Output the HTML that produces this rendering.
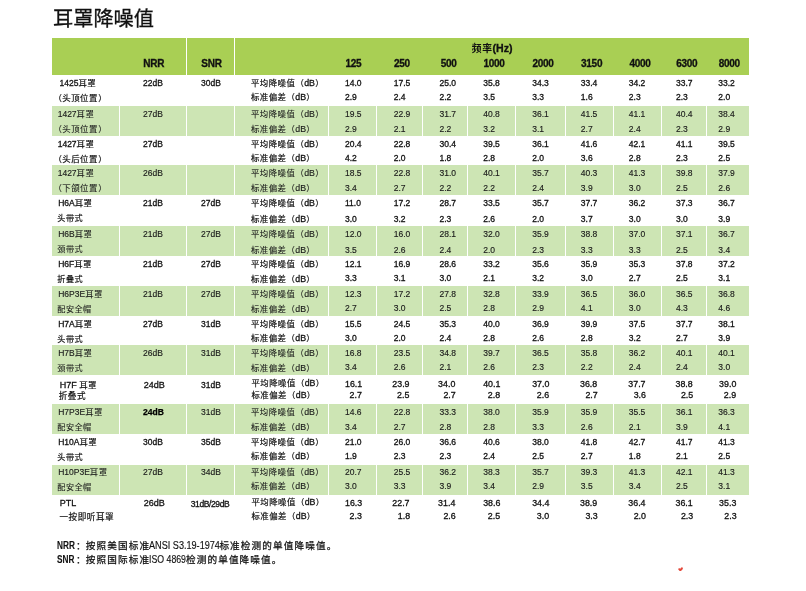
<!DOCTYPE html>
<html lang="zh-CN">
<head>
<meta charset="utf-8">
<title>耳罩降噪值</title>
<style>
html,body{margin:0;padding:0;background:#fff;}
body{width:806px;height:591px;position:relative;overflow:hidden;font-family:"Liberation Sans","Noto Sans CJK SC",sans-serif;color:#111;}
.r{position:absolute;}
main,.bg,.tbl,.thead,.row,.notes{display:block;margin:0;padding:0;}
.t span{line-height:0;}
.t{position:absolute;white-space:pre;font-size:8.5px;line-height:20px;height:20px;margin-top:-14px;-webkit-text-stroke:0.3px #111;}
.t .c{font-size:8.4px;letter-spacing:0.48px;-webkit-text-stroke:0.2px #111;}
.t.g{font-size:9px;}
.t.v{font-size:8.85px;}
.t.g .c{font-size:8.45px;letter-spacing:0.45px;}
.t .db{font-size:8.8px;margin-left:-0.1px;}
.sp{font-size:7px;}
.po{margin-left:-0.5em;}
.po2{margin-left:0.1px;}
.pc{margin-right:-0.5em;margin-left:0.3px;}
.t.h{font-weight:bold;font-size:10px;letter-spacing:-0.25px;-webkit-text-stroke:0.3px #111;}
.t.h .c{font-size:9.8px;letter-spacing:0.6px;font-weight:700;-webkit-text-stroke:0;}
.t.gr{-webkit-text-stroke:0.14px #1a1a1a;color:#1a1a1a;}
.t.gr .c{-webkit-text-stroke:0.08px #1a1a1a;}
.t.b{font-weight:bold;color:#000;-webkit-text-stroke:0.25px #000;}
.t.f{font-size:10.3px;-webkit-text-stroke:0.15px #111;transform-origin:0 50%;}
.t.fb{font-weight:bold;transform:scaleX(0.8);-webkit-text-stroke:0.1px #111;}
.t.fl{transform:scaleX(0.885);}
.t.fc{font-size:9.6px;letter-spacing:1.13px;-webkit-text-stroke:0.25px #111;}
.title{position:absolute;left:53px;top:4px;margin:0;font-size:20.2px;line-height:30px;font-weight:normal;white-space:nowrap;color:#111;-webkit-text-stroke:0.3px #111;}
</style>
</head>
<body>
<main>
<div class="bg" aria-hidden="true">
<div class="r" style="left:52px;top:38px;width:697px;height:37px;background:#a9cf54"></div>
<div class="r" style="left:186px;top:38px;width:1px;height:37px;background:#fff"></div>
<div class="r" style="left:234px;top:38px;width:1px;height:37px;background:#fff"></div>
<div class="r" style="left:52px;top:106px;width:697px;height:30px;background:#cde5b4"></div>
<div class="r" style="left:119px;top:106px;width:1px;height:30px;background:#fff"></div>
<div class="r" style="left:186px;top:106px;width:1px;height:30px;background:#fff"></div>
<div class="r" style="left:234px;top:106px;width:1px;height:30px;background:#fff"></div>
<div class="r" style="left:328px;top:106px;width:1px;height:30px;background:#fff"></div>
<div class="r" style="left:376px;top:106px;width:1px;height:30px;background:#fff"></div>
<div class="r" style="left:422px;top:106px;width:1px;height:30px;background:#fff"></div>
<div class="r" style="left:467px;top:106px;width:1px;height:30px;background:#fff"></div>
<div class="r" style="left:515px;top:106px;width:1px;height:30px;background:#fff"></div>
<div class="r" style="left:565px;top:106px;width:1px;height:30px;background:#fff"></div>
<div class="r" style="left:613px;top:106px;width:1px;height:30px;background:#fff"></div>
<div class="r" style="left:660.5px;top:106px;width:1px;height:30px;background:#fff"></div>
<div class="r" style="left:706px;top:106px;width:1px;height:30px;background:#fff"></div>
<div class="r" style="left:52px;top:165px;width:697px;height:30px;background:#cde5b4"></div>
<div class="r" style="left:119px;top:165px;width:1px;height:30px;background:#fff"></div>
<div class="r" style="left:186px;top:165px;width:1px;height:30px;background:#fff"></div>
<div class="r" style="left:234px;top:165px;width:1px;height:30px;background:#fff"></div>
<div class="r" style="left:328px;top:165px;width:1px;height:30px;background:#fff"></div>
<div class="r" style="left:376px;top:165px;width:1px;height:30px;background:#fff"></div>
<div class="r" style="left:422px;top:165px;width:1px;height:30px;background:#fff"></div>
<div class="r" style="left:467px;top:165px;width:1px;height:30px;background:#fff"></div>
<div class="r" style="left:515px;top:165px;width:1px;height:30px;background:#fff"></div>
<div class="r" style="left:565px;top:165px;width:1px;height:30px;background:#fff"></div>
<div class="r" style="left:613px;top:165px;width:1px;height:30px;background:#fff"></div>
<div class="r" style="left:660.5px;top:165px;width:1px;height:30px;background:#fff"></div>
<div class="r" style="left:706px;top:165px;width:1px;height:30px;background:#fff"></div>
<div class="r" style="left:52px;top:226px;width:697px;height:30px;background:#cde5b4"></div>
<div class="r" style="left:119px;top:226px;width:1px;height:30px;background:#fff"></div>
<div class="r" style="left:186px;top:226px;width:1px;height:30px;background:#fff"></div>
<div class="r" style="left:234px;top:226px;width:1px;height:30px;background:#fff"></div>
<div class="r" style="left:328px;top:226px;width:1px;height:30px;background:#fff"></div>
<div class="r" style="left:376px;top:226px;width:1px;height:30px;background:#fff"></div>
<div class="r" style="left:422px;top:226px;width:1px;height:30px;background:#fff"></div>
<div class="r" style="left:467px;top:226px;width:1px;height:30px;background:#fff"></div>
<div class="r" style="left:515px;top:226px;width:1px;height:30px;background:#fff"></div>
<div class="r" style="left:565px;top:226px;width:1px;height:30px;background:#fff"></div>
<div class="r" style="left:613px;top:226px;width:1px;height:30px;background:#fff"></div>
<div class="r" style="left:660.5px;top:226px;width:1px;height:30px;background:#fff"></div>
<div class="r" style="left:706px;top:226px;width:1px;height:30px;background:#fff"></div>
<div class="r" style="left:52px;top:286px;width:697px;height:30px;background:#cde5b4"></div>
<div class="r" style="left:119px;top:286px;width:1px;height:30px;background:#fff"></div>
<div class="r" style="left:186px;top:286px;width:1px;height:30px;background:#fff"></div>
<div class="r" style="left:234px;top:286px;width:1px;height:30px;background:#fff"></div>
<div class="r" style="left:328px;top:286px;width:1px;height:30px;background:#fff"></div>
<div class="r" style="left:376px;top:286px;width:1px;height:30px;background:#fff"></div>
<div class="r" style="left:422px;top:286px;width:1px;height:30px;background:#fff"></div>
<div class="r" style="left:467px;top:286px;width:1px;height:30px;background:#fff"></div>
<div class="r" style="left:515px;top:286px;width:1px;height:30px;background:#fff"></div>
<div class="r" style="left:565px;top:286px;width:1px;height:30px;background:#fff"></div>
<div class="r" style="left:613px;top:286px;width:1px;height:30px;background:#fff"></div>
<div class="r" style="left:660.5px;top:286px;width:1px;height:30px;background:#fff"></div>
<div class="r" style="left:706px;top:286px;width:1px;height:30px;background:#fff"></div>
<div class="r" style="left:52px;top:345px;width:697px;height:30px;background:#cde5b4"></div>
<div class="r" style="left:119px;top:345px;width:1px;height:30px;background:#fff"></div>
<div class="r" style="left:186px;top:345px;width:1px;height:30px;background:#fff"></div>
<div class="r" style="left:234px;top:345px;width:1px;height:30px;background:#fff"></div>
<div class="r" style="left:328px;top:345px;width:1px;height:30px;background:#fff"></div>
<div class="r" style="left:376px;top:345px;width:1px;height:30px;background:#fff"></div>
<div class="r" style="left:422px;top:345px;width:1px;height:30px;background:#fff"></div>
<div class="r" style="left:467px;top:345px;width:1px;height:30px;background:#fff"></div>
<div class="r" style="left:515px;top:345px;width:1px;height:30px;background:#fff"></div>
<div class="r" style="left:565px;top:345px;width:1px;height:30px;background:#fff"></div>
<div class="r" style="left:613px;top:345px;width:1px;height:30px;background:#fff"></div>
<div class="r" style="left:660.5px;top:345px;width:1px;height:30px;background:#fff"></div>
<div class="r" style="left:706px;top:345px;width:1px;height:30px;background:#fff"></div>
<div class="r" style="left:52px;top:404px;width:697px;height:30px;background:#cde5b4"></div>
<div class="r" style="left:119px;top:404px;width:1px;height:30px;background:#fff"></div>
<div class="r" style="left:186px;top:404px;width:1px;height:30px;background:#fff"></div>
<div class="r" style="left:234px;top:404px;width:1px;height:30px;background:#fff"></div>
<div class="r" style="left:328px;top:404px;width:1px;height:30px;background:#fff"></div>
<div class="r" style="left:376px;top:404px;width:1px;height:30px;background:#fff"></div>
<div class="r" style="left:422px;top:404px;width:1px;height:30px;background:#fff"></div>
<div class="r" style="left:467px;top:404px;width:1px;height:30px;background:#fff"></div>
<div class="r" style="left:515px;top:404px;width:1px;height:30px;background:#fff"></div>
<div class="r" style="left:565px;top:404px;width:1px;height:30px;background:#fff"></div>
<div class="r" style="left:613px;top:404px;width:1px;height:30px;background:#fff"></div>
<div class="r" style="left:660.5px;top:404px;width:1px;height:30px;background:#fff"></div>
<div class="r" style="left:706px;top:404px;width:1px;height:30px;background:#fff"></div>
<div class="r" style="left:52px;top:465px;width:697px;height:30px;background:#cde5b4"></div>
<div class="r" style="left:119px;top:465px;width:1px;height:30px;background:#fff"></div>
<div class="r" style="left:186px;top:465px;width:1px;height:30px;background:#fff"></div>
<div class="r" style="left:234px;top:465px;width:1px;height:30px;background:#fff"></div>
<div class="r" style="left:328px;top:465px;width:1px;height:30px;background:#fff"></div>
<div class="r" style="left:376px;top:465px;width:1px;height:30px;background:#fff"></div>
<div class="r" style="left:422px;top:465px;width:1px;height:30px;background:#fff"></div>
<div class="r" style="left:467px;top:465px;width:1px;height:30px;background:#fff"></div>
<div class="r" style="left:515px;top:465px;width:1px;height:30px;background:#fff"></div>
<div class="r" style="left:565px;top:465px;width:1px;height:30px;background:#fff"></div>
<div class="r" style="left:613px;top:465px;width:1px;height:30px;background:#fff"></div>
<div class="r" style="left:660.5px;top:465px;width:1px;height:30px;background:#fff"></div>
<div class="r" style="left:706px;top:465px;width:1px;height:30px;background:#fff"></div>
</div>
<h1 class="title">耳罩降噪值</h1>
<div class="tbl" role="table">
<div class="thead" role="row">
<span class="t h" style="left:143.3px;top:67.78px;">NRR</span>
<span class="t h" style="left:201.3px;top:67.78px;">SNR</span>
<span class="t h" style="left:471.8px;top:51.58px;font-size:10.6px;letter-spacing:0"><span class="c">频率</span>(Hz)</span>
<span class="t h" style="left:345.4px;top:67.78px;">125</span>
<span class="t h" style="left:394.0px;top:67.78px;">250</span>
<span class="t h" style="left:440.7px;top:67.78px;">500</span>
<span class="t h" style="left:483.4px;top:67.78px;">1000</span>
<span class="t h" style="left:532.4px;top:67.78px;">2000</span>
<span class="t h" style="left:581.0px;top:67.78px;">3150</span>
<span class="t h" style="left:629.4px;top:67.78px;">4000</span>
<span class="t h" style="left:676.2px;top:67.78px;">6300</span>
<span class="t h" style="left:718.7px;top:67.78px;">8000</span>
</div>
<div class="row" role="row">
<span class="t " style="left:59.6px;top:87.30px;">1425<span class="c">耳罩</span></span>
<span class="t " style="left:57.6px;top:102.30px;"><span class="c" style="font-size:8.41px;letter-spacing:0.49px"><span class="po">（</span>头顶位置<span class="pc">）</span></span></span>
<span class="t " style="left:143.0px;top:87.30px;">22dB</span>
<span class="t " style="left:201.0px;top:87.30px;">30dB</span>
<span class="t " style="left:251.0px;top:87.30px;"><span class="c">平均降噪值<span class="po2">（</span></span><span class="db">dB</span><span class="c"><span class="pc">）</span></span></span>
<span class="t " style="left:251.0px;top:101.30px;"><span class="c">标准偏差<span class="po2">（</span></span><span class="db">dB</span><span class="c"><span class="pc">）</span></span></span>
<span class="t " style="left:345.0px;top:87.30px;">14.0</span>
<span class="t " style="left:393.7px;top:87.30px;">17.5</span>
<span class="t " style="left:439.5px;top:87.30px;">25.0</span>
<span class="t " style="left:483.2px;top:87.30px;">35.8</span>
<span class="t " style="left:532.2px;top:87.30px;">34.3</span>
<span class="t " style="left:580.8px;top:87.30px;">33.4</span>
<span class="t " style="left:628.8px;top:87.30px;">34.2</span>
<span class="t " style="left:676.0px;top:87.30px;">33.7</span>
<span class="t " style="left:718.3px;top:87.30px;">33.2</span>
<span class="t " style="left:345.0px;top:101.30px;">2.9</span>
<span class="t " style="left:393.7px;top:101.30px;">2.4</span>
<span class="t " style="left:439.5px;top:101.30px;">2.2</span>
<span class="t " style="left:483.2px;top:101.30px;">3.5</span>
<span class="t " style="left:532.2px;top:101.30px;">3.3</span>
<span class="t " style="left:580.8px;top:101.30px;">1.6</span>
<span class="t " style="left:628.8px;top:101.30px;">2.3</span>
<span class="t " style="left:676.0px;top:101.30px;">2.3</span>
<span class="t " style="left:718.3px;top:101.30px;">2.0</span>
</div>
<div class="row" role="row">
<span class="t  gr" style="left:57.7px;top:118.30px;">1427<span class="c">耳罩</span></span>
<span class="t  gr" style="left:57.6px;top:133.30px;"><span class="c" style="font-size:8.41px;letter-spacing:0.49px"><span class="po">（</span>头顶位置<span class="pc">）</span></span></span>
<span class="t  gr" style="left:143.0px;top:118.30px;">27dB</span>
<span class="t gr" style="left:251.0px;top:118.30px;"><span class="c">平均降噪值<span class="po2">（</span></span><span class="db">dB</span><span class="c"><span class="pc">）</span></span></span>
<span class="t gr" style="left:251.0px;top:133.30px;"><span class="c">标准偏差<span class="po2">（</span></span><span class="db">dB</span><span class="c"><span class="pc">）</span></span></span>
<span class="t  gr" style="left:345.0px;top:118.30px;">19.5</span>
<span class="t  gr" style="left:393.7px;top:118.30px;">22.9</span>
<span class="t  gr" style="left:439.5px;top:118.30px;">31.7</span>
<span class="t  gr" style="left:483.2px;top:118.30px;">40.8</span>
<span class="t  gr" style="left:532.2px;top:118.30px;">36.1</span>
<span class="t  gr" style="left:580.8px;top:118.30px;">41.5</span>
<span class="t  gr" style="left:628.8px;top:118.30px;">41.1</span>
<span class="t  gr" style="left:676.0px;top:118.30px;">40.4</span>
<span class="t  gr" style="left:718.3px;top:118.30px;">38.4</span>
<span class="t  gr" style="left:345.0px;top:133.30px;">2.9</span>
<span class="t  gr" style="left:393.7px;top:133.30px;">2.1</span>
<span class="t  gr" style="left:439.5px;top:133.30px;">2.2</span>
<span class="t  gr" style="left:483.2px;top:133.30px;">3.2</span>
<span class="t  gr" style="left:532.2px;top:133.30px;">3.1</span>
<span class="t  gr" style="left:580.8px;top:133.30px;">2.7</span>
<span class="t  gr" style="left:628.8px;top:133.30px;">2.4</span>
<span class="t  gr" style="left:676.0px;top:133.30px;">2.3</span>
<span class="t  gr" style="left:718.3px;top:133.30px;">2.9</span>
</div>
<div class="row" role="row">
<span class="t " style="left:57.7px;top:148.30px;">1427<span class="c">耳罩</span></span>
<span class="t " style="left:57.6px;top:163.30px;"><span class="c" style="font-size:8.41px;letter-spacing:0.49px"><span class="po">（</span>头后位置<span class="pc">）</span></span></span>
<span class="t " style="left:143.0px;top:148.30px;">27dB</span>
<span class="t " style="left:251.0px;top:148.30px;"><span class="c">平均降噪值<span class="po2">（</span></span><span class="db">dB</span><span class="c"><span class="pc">）</span></span></span>
<span class="t " style="left:251.0px;top:162.30px;"><span class="c">标准偏差<span class="po2">（</span></span><span class="db">dB</span><span class="c"><span class="pc">）</span></span></span>
<span class="t " style="left:345.0px;top:148.30px;">20.4</span>
<span class="t " style="left:393.7px;top:148.30px;">22.8</span>
<span class="t " style="left:439.5px;top:148.30px;">30.4</span>
<span class="t " style="left:483.2px;top:148.30px;">39.5</span>
<span class="t " style="left:532.2px;top:148.30px;">36.1</span>
<span class="t " style="left:580.8px;top:148.30px;">41.6</span>
<span class="t " style="left:628.8px;top:148.30px;">42.1</span>
<span class="t " style="left:676.0px;top:148.30px;">41.1</span>
<span class="t " style="left:718.3px;top:148.30px;">39.5</span>
<span class="t " style="left:345.0px;top:162.30px;">4.2</span>
<span class="t " style="left:393.7px;top:162.30px;">2.0</span>
<span class="t " style="left:439.5px;top:162.30px;">1.8</span>
<span class="t " style="left:483.2px;top:162.30px;">2.8</span>
<span class="t " style="left:532.2px;top:162.30px;">2.0</span>
<span class="t " style="left:580.8px;top:162.30px;">3.6</span>
<span class="t " style="left:628.8px;top:162.30px;">2.8</span>
<span class="t " style="left:676.0px;top:162.30px;">2.3</span>
<span class="t " style="left:718.3px;top:162.30px;">2.5</span>
</div>
<div class="row" role="row">
<span class="t  gr" style="left:57.7px;top:177.30px;">1427<span class="c">耳罩</span></span>
<span class="t  gr" style="left:57.6px;top:192.30px;"><span class="c" style="font-size:8.41px;letter-spacing:0.49px"><span class="po">（</span>下颌位置<span class="pc">）</span></span></span>
<span class="t  gr" style="left:143.0px;top:177.30px;">26dB</span>
<span class="t gr" style="left:251.0px;top:177.30px;"><span class="c">平均降噪值<span class="po2">（</span></span><span class="db">dB</span><span class="c"><span class="pc">）</span></span></span>
<span class="t gr" style="left:251.0px;top:192.30px;"><span class="c">标准偏差<span class="po2">（</span></span><span class="db">dB</span><span class="c"><span class="pc">）</span></span></span>
<span class="t  gr" style="left:345.0px;top:177.30px;">18.5</span>
<span class="t  gr" style="left:393.7px;top:177.30px;">22.8</span>
<span class="t  gr" style="left:439.5px;top:177.30px;">31.0</span>
<span class="t  gr" style="left:483.2px;top:177.30px;">40.1</span>
<span class="t  gr" style="left:532.2px;top:177.30px;">35.7</span>
<span class="t  gr" style="left:580.8px;top:177.30px;">40.3</span>
<span class="t  gr" style="left:628.8px;top:177.30px;">41.3</span>
<span class="t  gr" style="left:676.0px;top:177.30px;">39.8</span>
<span class="t  gr" style="left:718.3px;top:177.30px;">37.9</span>
<span class="t  gr" style="left:345.0px;top:192.30px;">3.4</span>
<span class="t  gr" style="left:393.7px;top:192.30px;">2.7</span>
<span class="t  gr" style="left:439.5px;top:192.30px;">2.2</span>
<span class="t  gr" style="left:483.2px;top:192.30px;">2.2</span>
<span class="t  gr" style="left:532.2px;top:192.30px;">2.4</span>
<span class="t  gr" style="left:580.8px;top:192.30px;">3.9</span>
<span class="t  gr" style="left:628.8px;top:192.30px;">3.0</span>
<span class="t  gr" style="left:676.0px;top:192.30px;">2.5</span>
<span class="t  gr" style="left:718.3px;top:192.30px;">2.6</span>
</div>
<div class="row" role="row">
<span class="t " style="left:58.2px;top:207.30px;">H6A<span class="c">耳罩</span></span>
<span class="t " style="left:57.3px;top:222.30px;"><span class="c" style="font-size:8.13px;letter-spacing:0.47px">头带式</span></span>
<span class="t " style="left:143.0px;top:207.30px;">21dB</span>
<span class="t " style="left:201.0px;top:207.30px;">27dB</span>
<span class="t " style="left:251.0px;top:207.30px;"><span class="c">平均降噪值<span class="po2">（</span></span><span class="db">dB</span><span class="c"><span class="pc">）</span></span></span>
<span class="t " style="left:251.0px;top:223.30px;"><span class="c">标准偏差<span class="po2">（</span></span><span class="db">dB</span><span class="c"><span class="pc">）</span></span></span>
<span class="t " style="left:345.0px;top:207.30px;">11.0</span>
<span class="t " style="left:393.7px;top:207.30px;">17.2</span>
<span class="t " style="left:439.5px;top:207.30px;">28.7</span>
<span class="t " style="left:483.2px;top:207.30px;">33.5</span>
<span class="t " style="left:532.2px;top:207.30px;">35.7</span>
<span class="t " style="left:580.8px;top:207.30px;">37.7</span>
<span class="t " style="left:628.8px;top:207.30px;">36.2</span>
<span class="t " style="left:676.0px;top:207.30px;">37.3</span>
<span class="t " style="left:718.3px;top:207.30px;">36.7</span>
<span class="t " style="left:345.0px;top:223.30px;">3.0</span>
<span class="t " style="left:393.7px;top:223.30px;">3.2</span>
<span class="t " style="left:439.5px;top:223.30px;">2.3</span>
<span class="t " style="left:483.2px;top:223.30px;">2.6</span>
<span class="t " style="left:532.2px;top:223.30px;">2.0</span>
<span class="t " style="left:580.8px;top:223.30px;">3.7</span>
<span class="t " style="left:628.8px;top:223.30px;">3.0</span>
<span class="t " style="left:676.0px;top:223.30px;">3.0</span>
<span class="t " style="left:718.3px;top:223.30px;">3.9</span>
</div>
<div class="row" role="row">
<span class="t  gr" style="left:58.2px;top:238.30px;">H6B<span class="c">耳罩</span></span>
<span class="t  gr" style="left:57.3px;top:253.30px;"><span class="c" style="font-size:8.13px;letter-spacing:0.47px">颈带式</span></span>
<span class="t  gr" style="left:143.0px;top:238.30px;">21dB</span>
<span class="t gr" style="left:201.0px;top:238.30px;">27dB</span>
<span class="t gr" style="left:251.0px;top:238.30px;"><span class="c">平均降噪值<span class="po2">（</span></span><span class="db">dB</span><span class="c"><span class="pc">）</span></span></span>
<span class="t gr" style="left:251.0px;top:254.30px;"><span class="c">标准偏差<span class="po2">（</span></span><span class="db">dB</span><span class="c"><span class="pc">）</span></span></span>
<span class="t  gr" style="left:345.0px;top:238.30px;">12.0</span>
<span class="t  gr" style="left:393.7px;top:238.30px;">16.0</span>
<span class="t  gr" style="left:439.5px;top:238.30px;">28.1</span>
<span class="t  gr" style="left:483.2px;top:238.30px;">32.0</span>
<span class="t  gr" style="left:532.2px;top:238.30px;">35.9</span>
<span class="t  gr" style="left:580.8px;top:238.30px;">38.8</span>
<span class="t  gr" style="left:628.8px;top:238.30px;">37.0</span>
<span class="t  gr" style="left:676.0px;top:238.30px;">37.1</span>
<span class="t  gr" style="left:718.3px;top:238.30px;">36.7</span>
<span class="t  gr" style="left:345.0px;top:254.30px;">3.5</span>
<span class="t  gr" style="left:393.7px;top:254.30px;">2.6</span>
<span class="t  gr" style="left:439.5px;top:254.30px;">2.4</span>
<span class="t  gr" style="left:483.2px;top:254.30px;">2.0</span>
<span class="t  gr" style="left:532.2px;top:254.30px;">2.3</span>
<span class="t  gr" style="left:580.8px;top:254.30px;">3.3</span>
<span class="t  gr" style="left:628.8px;top:254.30px;">3.3</span>
<span class="t  gr" style="left:676.0px;top:254.30px;">2.5</span>
<span class="t  gr" style="left:718.3px;top:254.30px;">3.4</span>
</div>
<div class="row" role="row">
<span class="t " style="left:58.2px;top:268.30px;">H6F<span class="c">耳罩</span></span>
<span class="t " style="left:57.3px;top:283.30px;"><span class="c" style="font-size:8.13px;letter-spacing:0.47px">折叠式</span></span>
<span class="t " style="left:143.0px;top:268.30px;">21dB</span>
<span class="t " style="left:201.0px;top:268.30px;">27dB</span>
<span class="t " style="left:251.0px;top:268.30px;"><span class="c">平均降噪值<span class="po2">（</span></span><span class="db">dB</span><span class="c"><span class="pc">）</span></span></span>
<span class="t " style="left:251.0px;top:283.30px;"><span class="c">标准偏差<span class="po2">（</span></span><span class="db">dB</span><span class="c"><span class="pc">）</span></span></span>
<span class="t " style="left:345.0px;top:268.30px;">12.1</span>
<span class="t " style="left:393.7px;top:268.30px;">16.9</span>
<span class="t " style="left:439.5px;top:268.30px;">28.6</span>
<span class="t " style="left:483.2px;top:268.30px;">33.2</span>
<span class="t " style="left:532.2px;top:268.30px;">35.6</span>
<span class="t " style="left:580.8px;top:268.30px;">35.9</span>
<span class="t " style="left:628.8px;top:268.30px;">35.3</span>
<span class="t " style="left:676.0px;top:268.30px;">37.8</span>
<span class="t " style="left:718.3px;top:268.30px;">37.2</span>
<span class="t " style="left:345.0px;top:282.30px;">3.3</span>
<span class="t " style="left:393.7px;top:282.30px;">3.1</span>
<span class="t " style="left:439.5px;top:282.30px;">3.0</span>
<span class="t " style="left:483.2px;top:282.30px;">2.1</span>
<span class="t " style="left:532.2px;top:282.30px;">3.2</span>
<span class="t " style="left:580.8px;top:282.30px;">3.0</span>
<span class="t " style="left:628.8px;top:282.30px;">2.7</span>
<span class="t " style="left:676.0px;top:282.30px;">2.5</span>
<span class="t " style="left:718.3px;top:282.30px;">3.1</span>
</div>
<div class="row" role="row">
<span class="t  gr" style="left:58.2px;top:298.30px;">H6P3E<span class="c">耳罩</span></span>
<span class="t  gr" style="left:57.3px;top:313.30px;"><span class="c" style="font-size:8.13px;letter-spacing:0.47px">配安全帽</span></span>
<span class="t  gr" style="left:143.0px;top:298.30px;">21dB</span>
<span class="t gr" style="left:201.0px;top:298.30px;">27dB</span>
<span class="t gr" style="left:251.0px;top:298.30px;"><span class="c">平均降噪值<span class="po2">（</span></span><span class="db">dB</span><span class="c"><span class="pc">）</span></span></span>
<span class="t gr" style="left:251.0px;top:313.30px;"><span class="c">标准偏差<span class="po2">（</span></span><span class="db">dB</span><span class="c"><span class="pc">）</span></span></span>
<span class="t  gr" style="left:345.0px;top:298.30px;">12.3</span>
<span class="t  gr" style="left:393.7px;top:298.30px;">17.2</span>
<span class="t  gr" style="left:439.5px;top:298.30px;">27.8</span>
<span class="t  gr" style="left:483.2px;top:298.30px;">32.8</span>
<span class="t  gr" style="left:532.2px;top:298.30px;">33.9</span>
<span class="t  gr" style="left:580.8px;top:298.30px;">36.5</span>
<span class="t  gr" style="left:628.8px;top:298.30px;">36.0</span>
<span class="t  gr" style="left:676.0px;top:298.30px;">36.5</span>
<span class="t  gr" style="left:718.3px;top:298.30px;">36.8</span>
<span class="t  gr" style="left:345.0px;top:312.30px;">2.7</span>
<span class="t  gr" style="left:393.7px;top:312.30px;">3.0</span>
<span class="t  gr" style="left:439.5px;top:312.30px;">2.5</span>
<span class="t  gr" style="left:483.2px;top:312.30px;">2.8</span>
<span class="t  gr" style="left:532.2px;top:312.30px;">2.9</span>
<span class="t  gr" style="left:580.8px;top:312.30px;">4.1</span>
<span class="t  gr" style="left:628.8px;top:312.30px;">3.0</span>
<span class="t  gr" style="left:676.0px;top:312.30px;">4.3</span>
<span class="t  gr" style="left:718.3px;top:312.30px;">4.6</span>
</div>
<div class="row" role="row">
<span class="t " style="left:58.2px;top:328.30px;">H7A<span class="c">耳罩</span></span>
<span class="t " style="left:57.3px;top:343.30px;"><span class="c" style="font-size:8.13px;letter-spacing:0.47px">头带式</span></span>
<span class="t " style="left:143.0px;top:328.30px;">27dB</span>
<span class="t " style="left:201.0px;top:328.30px;">31dB</span>
<span class="t " style="left:251.0px;top:328.30px;"><span class="c">平均降噪值<span class="po2">（</span></span><span class="db">dB</span><span class="c"><span class="pc">）</span></span></span>
<span class="t " style="left:251.0px;top:342.30px;"><span class="c">标准偏差<span class="po2">（</span></span><span class="db">dB</span><span class="c"><span class="pc">）</span></span></span>
<span class="t " style="left:345.0px;top:328.30px;">15.5</span>
<span class="t " style="left:393.7px;top:328.30px;">24.5</span>
<span class="t " style="left:439.5px;top:328.30px;">35.3</span>
<span class="t " style="left:483.2px;top:328.30px;">40.0</span>
<span class="t " style="left:532.2px;top:328.30px;">36.9</span>
<span class="t " style="left:580.8px;top:328.30px;">39.9</span>
<span class="t " style="left:628.8px;top:328.30px;">37.5</span>
<span class="t " style="left:676.0px;top:328.30px;">37.7</span>
<span class="t " style="left:718.3px;top:328.30px;">38.1</span>
<span class="t " style="left:345.0px;top:342.30px;">3.0</span>
<span class="t " style="left:393.7px;top:342.30px;">2.0</span>
<span class="t " style="left:439.5px;top:342.30px;">2.4</span>
<span class="t " style="left:483.2px;top:342.30px;">2.8</span>
<span class="t " style="left:532.2px;top:342.30px;">2.6</span>
<span class="t " style="left:580.8px;top:342.30px;">2.8</span>
<span class="t " style="left:628.8px;top:342.30px;">3.2</span>
<span class="t " style="left:676.0px;top:342.30px;">2.7</span>
<span class="t " style="left:718.3px;top:342.30px;">3.9</span>
</div>
<div class="row" role="row">
<span class="t  gr" style="left:58.2px;top:357.30px;">H7B<span class="c">耳罩</span></span>
<span class="t  gr" style="left:57.3px;top:372.30px;"><span class="c" style="font-size:8.13px;letter-spacing:0.47px">颈带式</span></span>
<span class="t  gr" style="left:143.0px;top:357.30px;">26dB</span>
<span class="t gr" style="left:201.0px;top:357.30px;">31dB</span>
<span class="t gr" style="left:251.0px;top:357.30px;"><span class="c">平均降噪值<span class="po2">（</span></span><span class="db">dB</span><span class="c"><span class="pc">）</span></span></span>
<span class="t gr" style="left:251.0px;top:372.30px;"><span class="c">标准偏差<span class="po2">（</span></span><span class="db">dB</span><span class="c"><span class="pc">）</span></span></span>
<span class="t  gr" style="left:345.0px;top:357.30px;">16.8</span>
<span class="t  gr" style="left:393.7px;top:357.30px;">23.5</span>
<span class="t  gr" style="left:439.5px;top:357.30px;">34.8</span>
<span class="t  gr" style="left:483.2px;top:357.30px;">39.7</span>
<span class="t  gr" style="left:532.2px;top:357.30px;">36.5</span>
<span class="t  gr" style="left:580.8px;top:357.30px;">35.8</span>
<span class="t  gr" style="left:628.8px;top:357.30px;">36.2</span>
<span class="t  gr" style="left:676.0px;top:357.30px;">40.1</span>
<span class="t  gr" style="left:718.3px;top:357.30px;">40.1</span>
<span class="t  gr" style="left:345.0px;top:371.30px;">3.4</span>
<span class="t  gr" style="left:393.7px;top:371.30px;">2.6</span>
<span class="t  gr" style="left:439.5px;top:371.30px;">2.1</span>
<span class="t  gr" style="left:483.2px;top:371.30px;">2.6</span>
<span class="t  gr" style="left:532.2px;top:371.30px;">2.3</span>
<span class="t  gr" style="left:580.8px;top:371.30px;">2.2</span>
<span class="t  gr" style="left:628.8px;top:371.30px;">2.4</span>
<span class="t  gr" style="left:676.0px;top:371.30px;">2.4</span>
<span class="t  gr" style="left:718.3px;top:371.30px;">3.0</span>
</div>
<div class="row" role="row">
<span class="t  g" style="left:59.8px;top:389.13px;">H7F<span class="c"><span class="sp"> </span>耳罩</span></span>
<span class="t  g" style="left:58.7px;top:400.13px;"><span class="c" style="font-size:8.60px;letter-spacing:0.50px">折叠式</span></span>
<span class="t  g" style="left:143.8px;top:389.13px;">24dB</span>
<span class="t " style="left:201.0px;top:389.30px;">31dB</span>
<span class="t " style="left:251.5px;top:387.30px;"><span class="c">平均降噪值<span class="po2">（</span></span><span class="db">dB</span><span class="c"><span class="pc">）</span></span></span>
<span class="t " style="left:251.5px;top:399.30px;"><span class="c">标准偏差<span class="po2">（</span></span><span class="db">dB</span><span class="c"><span class="pc">）</span></span></span>
<span class="t  v" style="left:345.0px;top:388.18px;">16.1</span>
<span class="t  v" style="left:392.3px;top:388.18px;">23.9</span>
<span class="t  v" style="left:438.1px;top:388.18px;">34.0</span>
<span class="t  v" style="left:483.2px;top:388.18px;">40.1</span>
<span class="t  v" style="left:532.2px;top:388.18px;">37.0</span>
<span class="t  v" style="left:580.0px;top:388.18px;">36.8</span>
<span class="t  v" style="left:628.3px;top:388.18px;">37.7</span>
<span class="t  v" style="left:675.5px;top:388.18px;">38.8</span>
<span class="t  v" style="left:719.1px;top:388.18px;">39.0</span>
<span class="t  v" style="left:349.5px;top:399.18px;">2.7</span>
<span class="t  v" style="left:397.0px;top:399.18px;">2.5</span>
<span class="t  v" style="left:443.4px;top:399.18px;">2.7</span>
<span class="t  v" style="left:487.8px;top:399.18px;">2.8</span>
<span class="t  v" style="left:536.8px;top:399.18px;">2.6</span>
<span class="t  v" style="left:585.4px;top:399.18px;">2.7</span>
<span class="t  v" style="left:633.7px;top:399.18px;">3.6</span>
<span class="t  v" style="left:680.9px;top:399.18px;">2.5</span>
<span class="t  v" style="left:723.8px;top:399.18px;">2.9</span>
</div>
<div class="row" role="row">
<span class="t  gr" style="left:58.2px;top:416.30px;">H7P3E<span class="c">耳罩</span></span>
<span class="t  gr" style="left:57.3px;top:431.30px;"><span class="c" style="font-size:8.13px;letter-spacing:0.47px">配安全帽</span></span>
<span class="t  gr b" style="left:143.0px;top:416.30px;">24dB</span>
<span class="t gr" style="left:201.0px;top:416.30px;">31dB</span>
<span class="t gr" style="left:251.0px;top:416.30px;"><span class="c">平均降噪值<span class="po2">（</span></span><span class="db">dB</span><span class="c"><span class="pc">）</span></span></span>
<span class="t gr" style="left:251.0px;top:431.30px;"><span class="c">标准偏差<span class="po2">（</span></span><span class="db">dB</span><span class="c"><span class="pc">）</span></span></span>
<span class="t  gr" style="left:345.0px;top:416.30px;">14.6</span>
<span class="t  gr" style="left:393.7px;top:416.30px;">22.8</span>
<span class="t  gr" style="left:439.5px;top:416.30px;">33.3</span>
<span class="t  gr" style="left:483.2px;top:416.30px;">38.0</span>
<span class="t  gr" style="left:532.2px;top:416.30px;">35.9</span>
<span class="t  gr" style="left:580.8px;top:416.30px;">35.9</span>
<span class="t  gr" style="left:628.8px;top:416.30px;">35.5</span>
<span class="t  gr" style="left:676.0px;top:416.30px;">36.1</span>
<span class="t  gr" style="left:718.3px;top:416.30px;">36.3</span>
<span class="t  gr" style="left:345.0px;top:431.30px;">3.4</span>
<span class="t  gr" style="left:393.7px;top:431.30px;">2.7</span>
<span class="t  gr" style="left:439.5px;top:431.30px;">2.8</span>
<span class="t  gr" style="left:483.2px;top:431.30px;">2.8</span>
<span class="t  gr" style="left:532.2px;top:431.30px;">3.3</span>
<span class="t  gr" style="left:580.8px;top:431.30px;">2.6</span>
<span class="t  gr" style="left:628.8px;top:431.30px;">2.1</span>
<span class="t  gr" style="left:676.0px;top:431.30px;">3.9</span>
<span class="t  gr" style="left:718.3px;top:431.30px;">4.1</span>
</div>
<div class="row" role="row">
<span class="t " style="left:58.2px;top:446.30px;">H10A<span class="c">耳罩</span></span>
<span class="t " style="left:57.3px;top:461.30px;"><span class="c" style="font-size:8.13px;letter-spacing:0.47px">头带式</span></span>
<span class="t " style="left:143.0px;top:446.30px;">30dB</span>
<span class="t " style="left:201.0px;top:446.30px;">35dB</span>
<span class="t " style="left:251.0px;top:446.30px;"><span class="c">平均降噪值<span class="po2">（</span></span><span class="db">dB</span><span class="c"><span class="pc">）</span></span></span>
<span class="t " style="left:251.0px;top:460.30px;"><span class="c">标准偏差<span class="po2">（</span></span><span class="db">dB</span><span class="c"><span class="pc">）</span></span></span>
<span class="t " style="left:345.0px;top:446.30px;">21.0</span>
<span class="t " style="left:393.7px;top:446.30px;">26.0</span>
<span class="t " style="left:439.5px;top:446.30px;">36.6</span>
<span class="t " style="left:483.2px;top:446.30px;">40.6</span>
<span class="t " style="left:532.2px;top:446.30px;">38.0</span>
<span class="t " style="left:580.8px;top:446.30px;">41.8</span>
<span class="t " style="left:628.8px;top:446.30px;">42.7</span>
<span class="t " style="left:676.0px;top:446.30px;">41.7</span>
<span class="t " style="left:718.3px;top:446.30px;">41.3</span>
<span class="t " style="left:345.0px;top:460.30px;">1.9</span>
<span class="t " style="left:393.7px;top:460.30px;">2.3</span>
<span class="t " style="left:439.5px;top:460.30px;">2.3</span>
<span class="t " style="left:483.2px;top:460.30px;">2.4</span>
<span class="t " style="left:532.2px;top:460.30px;">2.5</span>
<span class="t " style="left:580.8px;top:460.30px;">2.7</span>
<span class="t " style="left:628.8px;top:460.30px;">1.8</span>
<span class="t " style="left:676.0px;top:460.30px;">2.1</span>
<span class="t " style="left:718.3px;top:460.30px;">2.5</span>
</div>
<div class="row" role="row">
<span class="t  gr" style="left:58.2px;top:476.30px;">H10P3E<span class="c">耳罩</span></span>
<span class="t  gr" style="left:57.3px;top:491.30px;"><span class="c" style="font-size:8.13px;letter-spacing:0.47px">配安全帽</span></span>
<span class="t  gr" style="left:143.0px;top:476.30px;">27dB</span>
<span class="t gr" style="left:201.0px;top:476.30px;">34dB</span>
<span class="t gr" style="left:251.0px;top:476.30px;"><span class="c">平均降噪值<span class="po2">（</span></span><span class="db">dB</span><span class="c"><span class="pc">）</span></span></span>
<span class="t gr" style="left:251.0px;top:490.30px;"><span class="c">标准偏差<span class="po2">（</span></span><span class="db">dB</span><span class="c"><span class="pc">）</span></span></span>
<span class="t  gr" style="left:345.0px;top:476.30px;">20.7</span>
<span class="t  gr" style="left:393.7px;top:476.30px;">25.5</span>
<span class="t  gr" style="left:439.5px;top:476.30px;">36.2</span>
<span class="t  gr" style="left:483.2px;top:476.30px;">38.3</span>
<span class="t  gr" style="left:532.2px;top:476.30px;">35.7</span>
<span class="t  gr" style="left:580.8px;top:476.30px;">39.3</span>
<span class="t  gr" style="left:628.8px;top:476.30px;">41.3</span>
<span class="t  gr" style="left:676.0px;top:476.30px;">42.1</span>
<span class="t  gr" style="left:718.3px;top:476.30px;">41.3</span>
<span class="t  gr" style="left:345.0px;top:490.30px;">3.0</span>
<span class="t  gr" style="left:393.7px;top:490.30px;">3.3</span>
<span class="t  gr" style="left:439.5px;top:490.30px;">3.9</span>
<span class="t  gr" style="left:483.2px;top:490.30px;">3.4</span>
<span class="t  gr" style="left:532.2px;top:490.30px;">2.9</span>
<span class="t  gr" style="left:580.8px;top:490.30px;">3.5</span>
<span class="t  gr" style="left:628.8px;top:490.30px;">3.4</span>
<span class="t  gr" style="left:676.0px;top:490.30px;">2.5</span>
<span class="t  gr" style="left:718.3px;top:490.30px;">3.1</span>
</div>
<div class="row" role="row">
<span class="t  g" style="left:59.8px;top:507.13px;">PTL</span>
<span class="t  g" style="left:59.5px;top:521.13px;"><span class="c" style="font-size:8.60px;letter-spacing:0.50px">一按即听耳罩</span></span>
<span class="t  g" style="left:143.8px;top:507.13px;">26dB</span>
<span class="t " style="left:190.7px;top:508.30px;letter-spacing:-0.38px">31dB/29dB</span>
<span class="t " style="left:251.5px;top:506.30px;"><span class="c">平均降噪值<span class="po2">（</span></span><span class="db">dB</span><span class="c"><span class="pc">）</span></span></span>
<span class="t " style="left:251.5px;top:520.30px;"><span class="c">标准偏差<span class="po2">（</span></span><span class="db">dB</span><span class="c"><span class="pc">）</span></span></span>
<span class="t  v" style="left:345.0px;top:507.18px;">16.3</span>
<span class="t  v" style="left:392.3px;top:507.18px;">22.7</span>
<span class="t  v" style="left:438.1px;top:507.18px;">31.4</span>
<span class="t  v" style="left:483.2px;top:507.18px;">38.6</span>
<span class="t  v" style="left:532.2px;top:507.18px;">34.4</span>
<span class="t  v" style="left:580.0px;top:507.18px;">38.9</span>
<span class="t  v" style="left:628.3px;top:507.18px;">36.4</span>
<span class="t  v" style="left:675.5px;top:507.18px;">36.1</span>
<span class="t  v" style="left:719.1px;top:507.18px;">35.3</span>
<span class="t  v" style="left:349.5px;top:520.18px;">2.3</span>
<span class="t  v" style="left:397.8px;top:520.18px;">1.8</span>
<span class="t  v" style="left:443.4px;top:520.18px;">2.6</span>
<span class="t  v" style="left:487.8px;top:520.18px;">2.5</span>
<span class="t  v" style="left:536.8px;top:520.18px;">3.0</span>
<span class="t  v" style="left:585.4px;top:520.18px;">3.3</span>
<span class="t  v" style="left:633.7px;top:520.18px;">2.0</span>
<span class="t  v" style="left:680.9px;top:520.18px;">2.3</span>
<span class="t  v" style="left:724.3px;top:520.18px;">2.3</span>
</div>
</div>
<footer class="notes">
<span class="t f fb" style="left:57.2px;top:549.68px;">NRR</span>
<span class="t f fc" style="left:76.0px;top:549.92px;">：</span>
<span class="t f fc" style="left:85.8px;top:549.92px;">按照美国标准</span>
<span class="t f fl" style="left:149.1px;top:549.68px;">ANSI S3.19-1974</span>
<span class="t f fc" style="left:219.4px;top:549.92px;">标准检测的单值降噪值。</span>
<br>
<span class="t f fb" style="left:57.2px;top:563.68px;">SNR</span>
<span class="t f fc" style="left:76.0px;top:563.92px;">：</span>
<span class="t f fc" style="left:85.8px;top:563.92px;">按照国际标准</span>
<span class="t f fl" style="left:149.1px;top:563.68px;transform:scaleX(0.85)">ISO 4869</span>
<span class="t f fc" style="left:186.0px;top:563.92px;">检测的单值降噪值。</span>
</footer>
<svg class="r" style="left:678.2px;top:566.7px" width="5" height="4.6" viewBox="0 0 10 9.2"><path d="M4.6 9.2 L0.9 5.4 C-0.3 3.6 1.2 1.8 3 2.5 C3.8 2.9 4.3 3.3 4.7 3.9 C5.2 2 6.6 0.1 8.3 0.4 C10 0.8 10.4 3.2 9 5.2 Z" fill="#e4483a"/></svg>
</main>
</body>
</html>
